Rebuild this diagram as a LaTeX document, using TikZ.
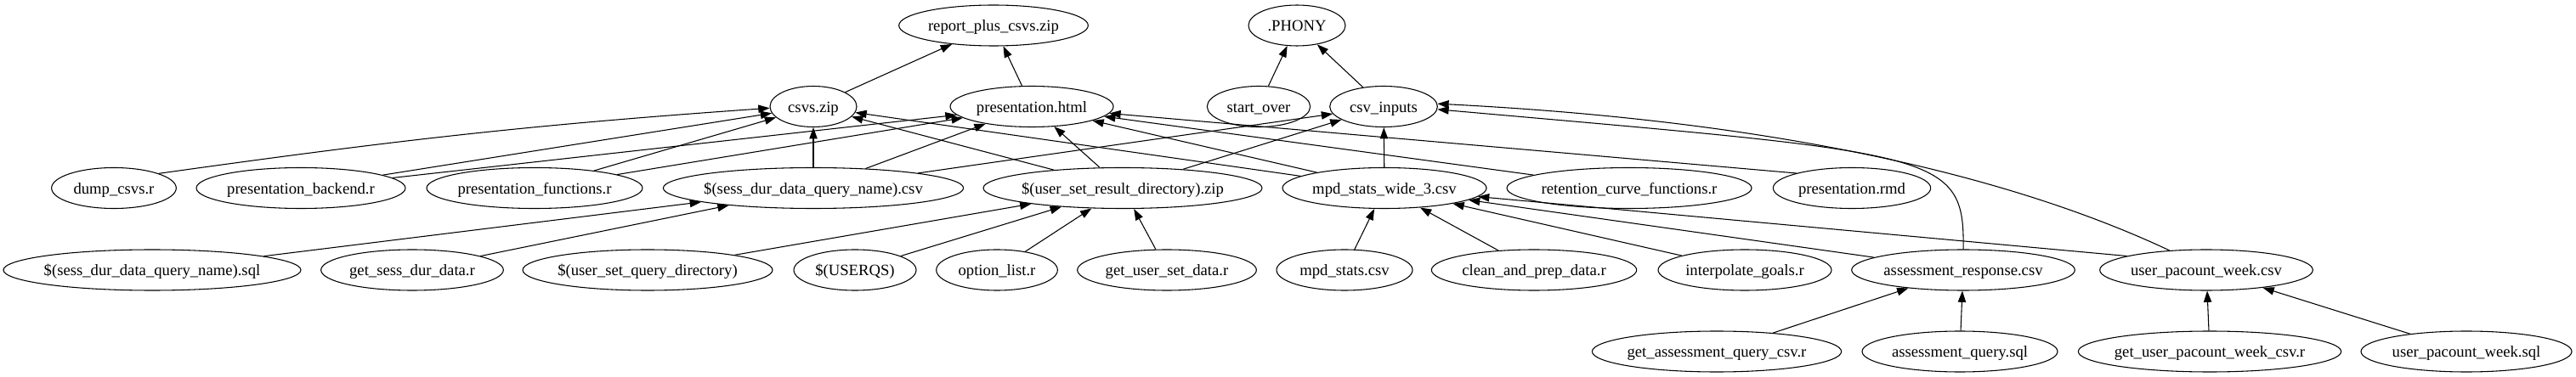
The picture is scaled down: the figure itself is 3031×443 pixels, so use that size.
\documentclass[tikz,border=0pt]{standalone}
\usepackage{fontspec}
\setmainfont{Liberation Serif}
\usetikzlibrary{arrows.meta,shapes.geometric}
\tikzset{>={Triangle[length=10pt,width=7pt]},fnode/.style={ellipse,draw,line width=.8pt,minimum width=#1,minimum height=36pt,inner xsep=-60pt,inner ysep=0pt,text height=11.5pt,text depth=1.5pt,font=\fontsize{14}{16}\selectfont},dep/.style={->,line width=.8pt}}

\begin{document}
\begin{tikzpicture}[x=.75pt,y=.75pt]
\useasboundingbox (0,0) rectangle (3031,443);
% top targets
\node[fnode=167pt] (report) at (1169,413) {report\_plus\_csvs.zip};
\node[fnode=85.5pt] (phony) at (1526,413) {.PHONY};
\node[fnode=76.5pt] (csvs) at (957,317.5) {csvs.zip};
\node[fnode=144pt] (html) at (1214,317.5) {presentation.html};
\node[fnode=91pt] (startover) at (1481,317.5) {start\_over};
\node[fnode=95pt] (csvin) at (1628,317.5) {csv\_inputs};
% middle row
\node[fnode=110pt] (dump) at (134,221.5) {dump\_csvs.r};
\node[fnode=184.5pt] (backend) at (354,221.5) {presentation\_backend.r};
\node[fnode=190.5pt] (functions) at (629,221.5) {presentation\_functions.r};
\node[fnode=265pt] (sesscsv) at (957,221.5) {\$(sess\_dur\_data\_query\_name).csv};
\node[fnode=246pt] (resultzip) at (1321,221.5) {\$(user\_set\_result\_directory).zip};
\node[fnode=180pt] (wide) at (1629,221.5) {mpd\_stats\_wide\_3.csv};
\node[fnode=216pt] (retention) at (1917,221.5) {retention\_curve\_functions.r};
\node[fnode=139pt] (rmd) at (2179,221.5) {presentation.rmd};
% sources
\node[fnode=262.5pt] (sesssql) at (179,125) {\$(sess\_dur\_data\_query\_name).sql};
\node[fnode=161pt] (getsess) at (485,125) {get\_sess\_dur\_data.r};
\node[fnode=220.5pt] (querydir) at (762,125) {\$(user\_set\_query\_directory)};
\node[fnode=108pt] (userqs) at (1006,125) {\$(USERQS)};
\node[fnode=107pt] (optlist) at (1173,125) {option\_list.r};
\node[fnode=158pt] (getuser) at (1373,125) {get\_user\_set\_data.r};
\node[fnode=120pt] (mpdstats) at (1582,125) {mpd\_stats.csv};
\node[fnode=181pt] (clean) at (1805,125) {clean\_and\_prep\_data.r};
\node[fnode=153pt] (interp) at (2053,125) {interpolate\_goals.r};
\node[fnode=197pt] (assess) at (2310,125) {assessment\_response.csv};
\node[fnode=188pt] (pacount) at (2596,125) {user\_pacount\_week.csv};
\node[fnode=220pt] (getassess) at (2020,29) {get\_assessment\_query\_csv.r};
\node[fnode=172.5pt] (assesssql) at (2306,29) {assessment\_query.sql};
\node[fnode=232pt] (getpacount) at (2600,29) {get\_user\_pacount\_week\_csv.r};
\node[fnode=186pt] (pacountsql) at (2902,29) {user\_pacount\_week.sql};

\foreach \a/\b in {csvs/report,html/report,startover/phony,csvin/phony,
  backend/csvs,backend/html,functions/csvs,functions/html,
  sesscsv/csvs,sesscsv/html,sesscsv/csvin,
  resultzip/csvs,resultzip/html,resultzip/csvin,
  wide/csvs,wide/html,wide/csvin,retention/html,rmd.165/html,
  sesssql/sesscsv,getsess/sesscsv,
  querydir/resultzip,userqs/resultzip,optlist/resultzip,getuser/resultzip,
  mpdstats/wide,clean/wide,interp/wide,assess/wide,pacount.170/wide,
  getassess/assess,assesssql/assess,getpacount/pacount,pacountsql/pacount}
  \draw[dep] (\a) -- (\b);

% long bends
\draw[dep] (dump.18) to[out=8,in=184] (csvs.182);
\draw[dep] (assess.north) .. controls (2312,265) and (2280,262) .. (csvin.-3);
\draw[dep] (pacount.152) .. controls (2372,233) and (2100,300) .. (csvin.3);
\end{tikzpicture}
\end{document}
